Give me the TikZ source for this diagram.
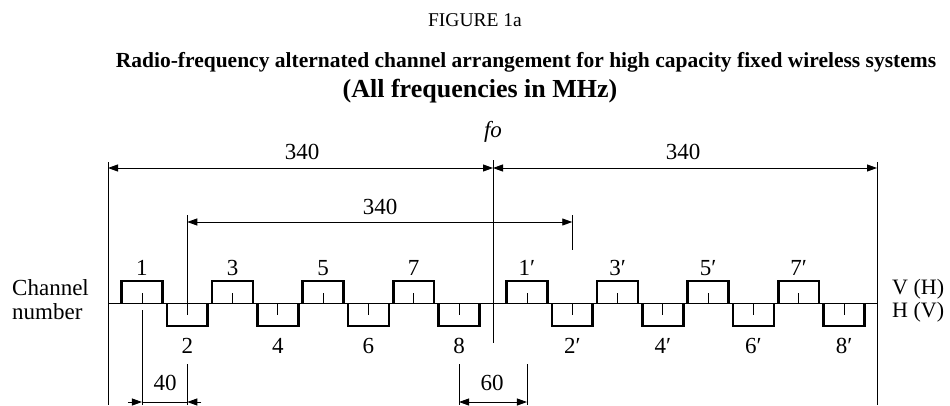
\documentclass[tikz,border=0pt]{standalone}
\usepackage{fontspec}
\setmainfont{Liberation Serif}
\usetikzlibrary{arrows.meta}
\begin{document}
\begin{tikzpicture}[x=1pt,y=-1pt,
  thinline/.style={line width=0.9pt},
  chbox/.style={line width=2.6pt, line join=miter, line cap=butt},
  dimline/.style={line width=0.9pt},
  tip/.tip={Triangle[length=10pt,width=7pt]},
  lbl/.style={font=\fontsize{23}{24}\selectfont, inner sep=0pt},
]
\useasboundingbox (0,0) rectangle (950,405);

% titles
\node[font=\fontsize{19.5}{20}\selectfont, inner sep=0pt] (fig) at (475,20) {FIGURE 1a};
\node[font=\bfseries\fontsize{21.5}{22}\selectfont, inner sep=0pt] (t1) at (526,62)
  {Radio-frequency alternated channel arrangement for high capacity fixed wireless systems};
\node[font=\bfseries\fontsize{26}{26}\selectfont, inner sep=0pt] (t2) at (480,91)
  {(All frequencies in MHz)};

% reference coordinates
\coordinate (Ltop) at (108,162);
\coordinate (Lbot) at (108,405);
\coordinate (Rtop) at (877,162);
\coordinate (Rbot) at (877,405);
\coordinate (Ftop) at (493,160);
\coordinate (Fbot) at (493,343);
\coordinate (axL) at (108,303);
\coordinate (axR) at (877,303);

% frame lines and axis
\draw[thinline] (Ltop) -- (Lbot);
\draw[thinline] (Rtop) -- (Rbot);
\draw[thinline] (Ftop) -- (Fbot);
\draw[thinline] (axL) -- (axR);

\node[font=\itshape\fontsize{23}{24}\selectfont, inner sep=0pt] (fo) at (493,132) {fo};

% top 340 dimensions
\coordinate (a1) at (108,168);
\coordinate (a2) at (493,168);
\coordinate (a3) at (877,168);
\draw[dimline, tip-tip] (a1) -- (a2);
\draw[dimline, tip-tip] (a2) -- (a3);
\node[lbl] (d1) at (302,152) {340};
\node[lbl] (d2) at (683,152) {340};

% 340 between channel 2 and 2'
\pgfmathsetmacro\cTwo{493+1.1324*(-270)}
\pgfmathsetmacro\cTwoP{493+1.1324*(70)}
\coordinate (b1top) at (\cTwo,215);
\coordinate (b1bot) at (\cTwo,303);
\coordinate (b2top) at (\cTwoP,215);
\coordinate (b2bot) at (\cTwoP,250);
\draw[thinline] (b1top) -- (b1bot);
\draw[thinline] (b2top) -- (b2bot);
\coordinate (b1) at (\cTwo,222);
\coordinate (b2) at (\cTwoP,222);
\draw[dimline, tip-tip] (b1) -- (b2);
\node[lbl] (d3) at (380,207) {340};

% channels
\foreach \n in {1,...,8}{
  \pgfmathsetmacro\c{493+1.1324*(-350+40*\n)}
  \pgfmathsetmacro\cp{493+1.1324*(-10+40*\n)}
  \ifodd\n\relax
    \draw[chbox] ({\c-20.4},303) -- ({\c-20.4},281) -- ({\c+20.4},281) -- ({\c+20.4},303);
    \draw[thinline] (\c,303) -- (\c,293);
    \node[lbl] (ch\n) at (\c,268) {\n};
    \draw[chbox] ({\cp-20.4},303) -- ({\cp-20.4},281) -- ({\cp+20.4},281) -- ({\cp+20.4},303);
    \draw[thinline] (\cp,303) -- (\cp,293);
    \node[lbl] (chp\n) at (\cp,268) {\n′};
  \else
    \draw[chbox] ({\c-20.4},303) -- ({\c-20.4},326) -- ({\c+20.4},326) -- ({\c+20.4},303);
    \draw[thinline] (\c,303) -- (\c,315);
    \node[lbl] (ch\n) at (\c,346) {\n};
    \draw[chbox] ({\cp-20.4},303) -- ({\cp-20.4},326) -- ({\cp+20.4},326) -- ({\cp+20.4},303);
    \draw[thinline] (\cp,303) -- (\cp,315);
    \node[lbl] (chp\n) at (\cp,346) {\n′};
  \fi
}

% side labels
\node[lbl, anchor=west, align=left] (chn) at (12,300) {Channel\\number};
\node[lbl, anchor=west, align=left, font=\fontsize{22}{23}\selectfont] (pol) at (892,301) {V (H)\\H (V)};

% bottom 40 dimension
\pgfmathsetmacro\cOne{493+1.1324*(-310)}
\pgfmathsetmacro\cEight{493+1.1324*(-30)}
\pgfmathsetmacro\cOneP{493+1.1324*(30)}
\coordinate (e1top) at (\cOne,310);
\coordinate (e1bot) at (\cOne,405);
\coordinate (e2top) at (\cTwo,364);
\coordinate (e2bot) at (\cTwo,405);
\draw[thinline] (e1top) -- (e1bot);
\draw[thinline] (e2top) -- (e2bot);
\coordinate (e1) at (\cOne,402);
\coordinate (e2) at (\cTwo,402);
\coordinate (e1o) at ({\cOne-14},402);
\coordinate (e2o) at ({\cTwo+14},402);
\draw[dimline, -tip] (e1o) -- (e1);
\draw[dimline] (e1) -- (e2);
\draw[dimline, -tip] (e2o) -- (e2);
\node[lbl] (d40) at (165,383) {40};

% bottom 60 dimension
\coordinate (g1top) at (\cEight,364);
\coordinate (g1bot) at (\cEight,405);
\coordinate (g2top) at (\cOneP,364);
\coordinate (g2bot) at (\cOneP,405);
\draw[thinline] (g1top) -- (g1bot);
\draw[thinline] (g2top) -- (g2bot);
\coordinate (g1) at (\cEight,402);
\coordinate (g2) at (\cOneP,402);
\draw[dimline, tip-tip] (g1) -- (g2);
\node[lbl] (d60) at (492,383) {60};
\end{tikzpicture}
\end{document}
